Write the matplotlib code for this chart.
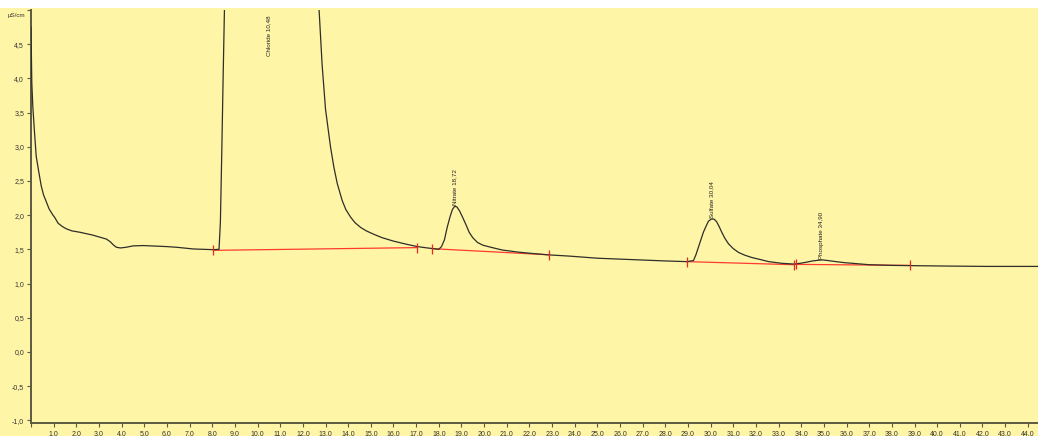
"""
Cromatograma iónico (conductividad vs. tiempo) con picos integrados.
"""

import numpy as np
import matplotlib
matplotlib.use("Agg")
import matplotlib.pyplot as plt
from matplotlib.patches import Rectangle
from matplotlib.ticker import FuncFormatter, MultipleLocator


TIEMPO = [
    0.0, 0.035, 0.08, 0.155, 0.23, 0.345, 0.45, 0.55, 0.67, 0.8, 0.97, 1.04,
    1.2, 1.4, 1.56, 1.8, 2.15, 2.7, 3.33, 3.5, 3.65, 3.77, 3.95, 4.2, 4.5,
    4.95, 5.99, 6.43, 7.17, 8.05, 8.3, 8.36, 8.42, 8.48, 8.55, 9.0, 10.48,
    12.0, 12.7, 12.85, 13.0, 13.22, 13.37, 13.52, 13.74, 13.9, 14.11, 14.3,
    14.55, 14.8, 15.13, 15.5, 16.0, 16.5, 17.05, 17.5, 18.0, 18.12, 18.25,
    18.37, 18.5, 18.6, 18.7, 18.8, 18.92, 19.05, 19.2, 19.34, 19.5, 19.71,
    19.95, 20.3, 20.8, 21.48, 22.1, 22.8, 23.8, 25.0, 26.5, 28.0, 28.94,
    29.24, 29.35, 29.46, 29.57, 29.68, 29.8, 29.9, 30.04, 30.16, 30.27, 30.38,
    30.49, 30.63, 30.79, 31.0, 31.23, 31.5, 31.82, 32.2, 32.56, 33.15, 33.67,
    33.95, 34.2, 34.5, 34.75, 34.94, 35.2, 35.53, 35.9, 36.27, 37.0, 38.0,
    39.2, 40.5, 42.2, 44.6,
]
SENAL = [
    4.75, 3.94, 3.59, 3.21, 2.86, 2.63, 2.43, 2.3, 2.2, 2.09, 2.0, 1.97,
    1.88, 1.83, 1.80, 1.77, 1.75, 1.71, 1.65, 1.61, 1.56, 1.53, 1.52, 1.53, 1.55,
    1.555, 1.54, 1.53, 1.505, 1.495, 1.50, 1.9, 2.9, 4.0, 5.2, 9.0, 12.0,
    9.0, 5.1, 4.2, 3.55, 3.0, 2.70, 2.46, 2.21, 2.08, 1.97, 1.89,
    1.82, 1.77, 1.72, 1.67, 1.62, 1.58, 1.54, 1.52, 1.50, 1.54, 1.64,
    1.82, 1.98, 2.08, 2.13, 2.12, 2.06, 1.97, 1.86, 1.75, 1.67, 1.60,
    1.56, 1.53, 1.49, 1.46, 1.44, 1.42, 1.40, 1.37, 1.35, 1.33, 1.32,
    1.335, 1.42, 1.53, 1.64, 1.75, 1.84, 1.91, 1.945, 1.94, 1.90, 1.83,
    1.75, 1.66, 1.58, 1.51, 1.455, 1.415, 1.38, 1.35, 1.32, 1.295, 1.285,
    1.295, 1.31, 1.33, 1.34, 1.345, 1.335, 1.32, 1.305, 1.295, 1.275, 1.265,
    1.26, 1.255, 1.25, 1.25,
]

# Picos identificados
PICO_NOMBRES = ["Chloride", "Nitrate", "Sulfate", "Phosphate"]
PICO_TIEMPOS = [10.48, 18.72, 30.04, 34.90]

# Líneas base de integración (inicio / fin)
BASE_T0 = [8.05, 17.7, 28.94, 33.75]
BASE_Y0 = [1.485, 1.51, 1.32, 1.28]
BASE_T1 = [17.05, 22.85, 33.67, 38.8]
BASE_Y1 = [1.525, 1.42, 1.275, 1.265]

FONDO = "#FFF5A6"
EJE = "#5C5A40"


def coma(v, _pos=None):
    return f"{v:.1f}".replace(".", ",")


fig = plt.figure(figsize=(10.38, 4.36), dpi=100, facecolor=FONDO)
ax = fig.add_axes([31 / 1038, 13 / 436, 1 - 31 / 1038, 1 - 23 / 436])
ax.set_facecolor(FONDO)

# franja blanca superior
fig.patches.append(Rectangle((0, 1 - 8 / 436), 1, 8 / 436, transform=fig.transFigure,
                             facecolor="white", edgecolor="none", zorder=-1))

ax.plot(TIEMPO, SENAL, color="#2E2E2A", linewidth=0.9, zorder=3)

for t0, y0, t1, y1 in zip(BASE_T0, BASE_Y0, BASE_T1, BASE_Y1):
    ax.plot([t0, t1], [y0, y1], color="#FF3B30", linewidth=0.9, zorder=2)
    ax.plot([t0, t1], [y0, y1], linestyle="none", marker="|", markersize=7,
            markeredgewidth=0.9, color="#E8281E", zorder=4)

ymin, ymax = -1.04, 5.0
for nombre, t in zip(PICO_NOMBRES, PICO_TIEMPOS):
    altura = np.interp(t, TIEMPO, SENAL)
    texto = f"{nombre} {t:.2f}".replace(".", ",")
    if altura > ymax:
        ax.text(t, ymax - 0.08, texto, rotation=90, ha="center", va="top",
                fontsize=4.5, family="Liberation Sans", color="#222222")
    else:
        ax.text(t, altura + 0.02, texto, rotation=90, ha="center", va="bottom",
                fontsize=4.5, family="Liberation Sans", color="#222222")

ax.set_xlim(0, 44.45)
ax.set_ylim(ymin, ymax)
ax.xaxis.set_major_locator(MultipleLocator(1.0))
ax.yaxis.set_major_locator(MultipleLocator(0.5))
ax.xaxis.set_major_formatter(FuncFormatter(lambda v, p: "" if v < 0.5 else coma(v)))
ax.yaxis.set_major_formatter(FuncFormatter(lambda v, p: "" if v > 4.75 else coma(v)))

for lado in ["top", "right"]:
    ax.spines[lado].set_visible(False)
for lado in ["left", "bottom"]:
    ax.spines[lado].set_color(EJE)
    ax.spines[lado].set_linewidth(1.4)

ax.tick_params(axis="both", colors=EJE, labelcolor="#333333", labelsize=5,
               length=3, width=0.8, pad=2)
for lab in ax.get_xticklabels() + ax.get_yticklabels():
    lab.set_family("Liberation Sans")

fig.text(8 / 1038, 1 - 16 / 436, "µS/cm", fontsize=4.5, family="Liberation Sans",
         color="#333333", va="center", ha="left")

fig.savefig("out.png", dpi=100, facecolor=FONDO)
